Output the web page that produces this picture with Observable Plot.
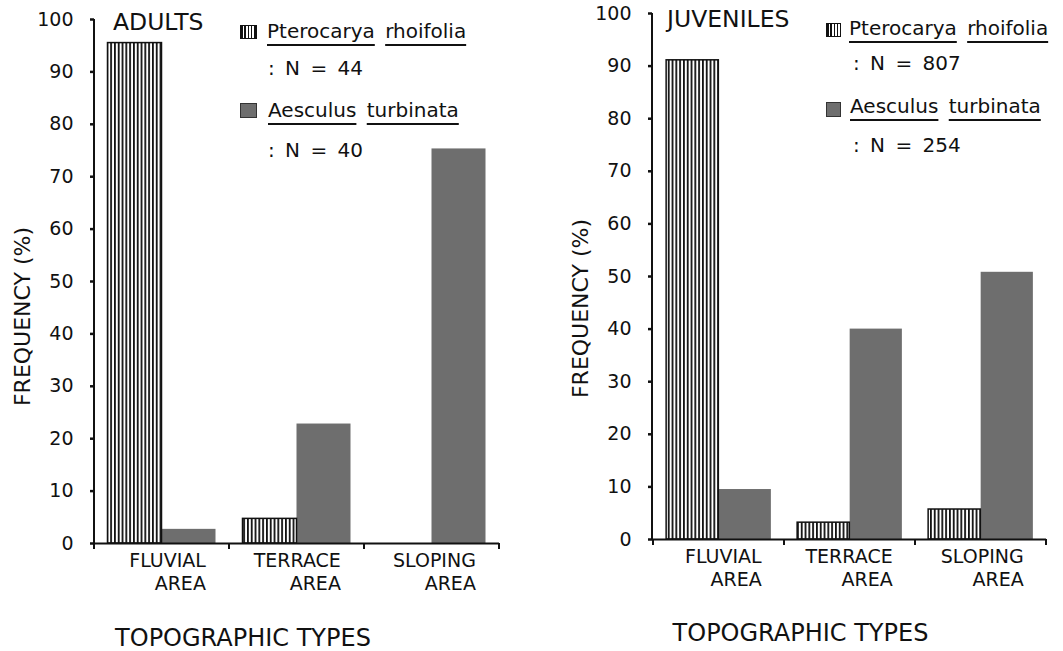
<!DOCTYPE html>
<html>
<head>
<meta charset="utf-8">
<script src="https://cdn.jsdelivr.net/npm/d3@7"></script>
<script src="https://cdn.jsdelivr.net/npm/@observablehq/plot@0.6"></script>
<style>
  html, body { margin: 0; padding: 0; background: #fff; }
  #wrap { position: relative; width: 1063px; height: 651px; display: flex; font-family: "DejaVu Sans", sans-serif; color: #111; overflow: hidden; }
  .lab { position: absolute; white-space: nowrap; font-size: 20px; line-height: 20px; word-spacing: 4px; }
  .lab u { text-decoration-thickness: 1.5px; text-underline-offset: 6px; }
  .ttl { position: absolute; white-space: nowrap; font-size: 23.5px; line-height: 23.5px; }
  .sw { position: absolute; box-sizing: border-box; }
  .swP { background: repeating-linear-gradient(90deg, #111 0 1.6px, #fff 1.6px 3.3px); border: 1.5px solid #111; }
  .swA { background: #6e6e6e; border: 1px solid #333; }
</style>
</head>
<body>
<svg width="0" height="0" style="position:absolute">
  <defs>
    <pattern id="hatchP" patternUnits="userSpaceOnUse" width="3.8" height="10">
      <rect width="3.8" height="10" fill="#fff"></rect>
      <rect x="0" width="1.8" height="10" fill="#111"></rect>
    </pattern>
  </defs>
</svg>
<div id="wrap"></div>
<script>
// ---- data ----
const areaKeys = ["FLUVIAL", "TERRACE", "SLOPING"];
const areaSecondLine = ["AREA", "AREA", "AREA"];
const speciesNames = ["Pterocarya rhoifolia", "Aesculus turbinata"];
const adultsPterocarya = [95.5, 4.7, 0];
const adultsAesculus = [2.7, 22.8, 75.3];
const juvenilesPterocarya = [91.1, 3.2, 5.7];
const juvenilesAesculus = [9.5, 40.0, 50.8];
const adultsN = [44, 40];
const juvenilesN = [807, 254];
const yTicks = [0, 10, 20, 30, 40, 50, 60, 70, 80, 90, 100];
const panelTitles = ["ADULTS", "JUVENILES"];
const xTitle = "TOPOGRAPHIC TYPES";
const yTitle = "FREQUENCY (%)";

function panel(o) {
  const rows = areaKeys.flatMap((a, i) => [
    {area: a, species: speciesNames[0], value: o.ptero[i]},
    {area: a, species: speciesNames[1], value: o.aesc[i]}
  ]);
  const step = (o.width - o.ml - o.mr) / areaKeys.length;

  const yAxisLine = (index, scales, values, dims) => {
    const g = d3.create("svg:g");
    g.append("line")
      .attr("x1", dims.marginLeft).attr("x2", dims.marginLeft)
      .attr("y1", scales.y(0) + 1).attr("y2", scales.y(100))
      .attr("stroke", "#111").attr("stroke-width", 2);
    return g.node();
  };
  const boundaryTicks = (index, scales, values, dims) => {
    const x = scales.x;
    const bw = x.bandwidth ? x.bandwidth() : step;
    const xs = areaKeys.map(a => x(a)).concat([x(areaKeys[areaKeys.length - 1]) + bw]);
    const g = d3.create("svg:g").attr("stroke", "#111").attr("stroke-width", 2);
    for (const v of xs) {
      g.append("line").attr("x1", v).attr("x2", v)
        .attr("y1", scales.y(0)).attr("y2", scales.y(0) + 6);
    }
    return g.node();
  };

  return Plot.plot({
    width: o.width,
    height: 651,
    marginLeft: o.ml,
    marginRight: o.mr,
    marginTop: o.mt,
    marginBottom: o.mb,
    style: {fontFamily: "DejaVu Sans, sans-serif", background: "#fff", color: "#111", overflow: "visible"},
    x: {domain: areaKeys, paddingInner: 0, paddingOuter: 0, axis: null},
    y: {domain: [0, 100], axis: null},
    marks: [
      Plot.barY(rows.filter(d => d.species === speciesNames[1] && d.value > 0), {
        x: "area", y: "value", fill: "#6e6e6e",
        insetLeft: step * 0.5, insetRight: step * 0.1
      }),
      Plot.barY(rows.filter(d => d.species === speciesNames[0] && d.value > 0), {
        x: "area", y: "value", fill: "url(#hatchP)", stroke: "#111", strokeWidth: 1.5,
        insetLeft: step * 0.1, insetRight: step * 0.5
      }),
      Plot.ruleY([0], {stroke: "#111", strokeWidth: 2}),
      yAxisLine,
      boundaryTicks,
      Plot.axisY({ticks: yTicks, tickSize: 4, tickPadding: 17, fontSize: 19, label: null, strokeWidth: 2.5}),
      Plot.text(areaKeys, {
        x: d => d, text: d => d,
        frameAnchor: "bottom", textAnchor: "end", lineAnchor: "top",
        dx: step * 0.325, dy: 10, fontSize: 19, fill: "#111"
      }),
      Plot.text(areaKeys, {
        x: d => d, text: (d, i) => areaSecondLine[i],
        frameAnchor: "bottom", textAnchor: "end", lineAnchor: "top",
        dx: step * 0.325, dy: 33, fontSize: 19, fill: "#111"
      }),
      Plot.text([yTitle], {frameAnchor: "left", textAnchor: "middle", rotate: -90, dx: o.yDx, dy: o.yDy, fontSize: 22, fill: "#111"}),
      Plot.text([xTitle], {frameAnchor: "bottom", textAnchor: "middle", lineAnchor: "top", dx: o.xDx, dy: o.xDy, fontSize: 24, fill: "#111"})
    ]
  });
}

const wrap = document.getElementById("wrap");
wrap.appendChild(panel({
  width: 531, ml: 94, mr: 32, mt: 19, mb: 108,
  ptero: adultsPterocarya, aesc: adultsAesculus,
  yDx: -72, yDy: 35, xDx: -54, xDy: 85
}));
wrap.appendChild(panel({
  width: 532, ml: 121, mr: 17, mt: 13, mb: 112,
  ptero: juvenilesPterocarya, aesc: juvenilesAesculus,
  yDx: -72, yDy: 32, xDx: -49, xDy: 84
}));

// ---- panel titles and legends (HTML overlay) ----
function underlineWords(s) {
  return s.split(" ").map(w => `<u>${w}</u>`).join(" ");
}
function addEl(cls, style, html) {
  const d = document.createElement("div");
  d.className = cls;
  d.setAttribute("style", style);
  if (html !== undefined) d.innerHTML = html;
  wrap.appendChild(d);
}
const legendLayouts = [
  {title: [113, 11], sw1: [240, 25, 17, 14], l1: [267, 21], l2: [268, 58], sw2: [240, 103, 17, 15], l3: [268, 100], l4: [268, 140]},
  {title: [667, 8], sw1: [826, 23, 15, 14], l1: [849, 18], l2: [853, 53], sw2: [826, 102, 15, 15], l3: [850, 96], l4: [853, 135]}
];
const Ns = [adultsN, juvenilesN];
legendLayouts.forEach((L, p) => {
  addEl("ttl", `left:${L.title[0]}px;top:${L.title[1]}px`, panelTitles[p]);
  addEl("sw swP", `left:${L.sw1[0]}px;top:${L.sw1[1]}px;width:${L.sw1[2]}px;height:${L.sw1[3]}px`);
  addEl("lab", `left:${L.l1[0]}px;top:${L.l1[1]}px`, underlineWords(speciesNames[0]));
  addEl("lab", `left:${L.l2[0]}px;top:${L.l2[1]}px`, `: N = ${Ns[p][0]}`);
  addEl("sw swA", `left:${L.sw2[0]}px;top:${L.sw2[1]}px;width:${L.sw2[2]}px;height:${L.sw2[3]}px`);
  addEl("lab", `left:${L.l3[0]}px;top:${L.l3[1]}px`, underlineWords(speciesNames[1]));
  addEl("lab", `left:${L.l4[0]}px;top:${L.l4[1]}px`, `: N = ${Ns[p][1]}`);
});
</script>
</body>
</html>
